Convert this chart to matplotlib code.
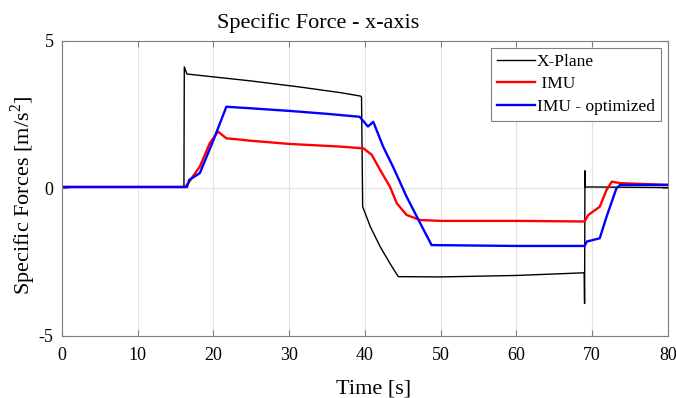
import numpy as np
import matplotlib
matplotlib.use("Agg")
from matplotlib import pyplot as plt

plt.rcParams['font.family'] = ['Liberation Serif', 'DejaVu Serif']
plt.rcParams['mathtext.fontset'] = 'custom'
plt.rcParams['mathtext.rm'] = 'Liberation Serif'
plt.rcParams['axes.unicode_minus'] = False

# X-Plane reference signal
xplane_t = [0, 16.1, 16.15, 16.5, 24.8, 31.4, 37.0, 39.45, 39.55, 39.7,
            40.7, 42.0, 43.3, 44.4, 50.0, 60.0, 68.95, 69.0, 69.05, 69.1, 70.0, 80.0]
xplane_v = [0.05, 0.05, 4.12, 3.88, 3.65, 3.44, 3.24, 3.13, 3.1, -0.62,
            -1.29, -1.97, -2.54, -2.99, -3.0, -2.95, -2.86, -3.9, 0.6, 0.05, 0.05, 0.03]

# IMU
imu_t = [0, 16.2, 16.5, 18.2, 19.5, 20.6, 21.7, 23.0, 24.8, 30.0, 36.7, 39.8,
         40.9, 42.0, 43.3, 44.2, 45.5, 47.3, 50.0, 60.0, 69.0, 69.5, 71.0,
         71.9, 72.6, 73.7, 80.0]
imu_v = [0.05, 0.05, 0.12, 0.74, 1.53, 1.93, 1.7, 1.67, 1.62, 1.51, 1.42, 1.36,
         1.14, 0.63, 0.06, -0.5, -0.9, -1.07, -1.1, -1.1, -1.12, -0.9, -0.62,
         -0.05, 0.23, 0.18, 0.12]

# IMU - optimized
opt_t = [0, 16.5, 16.8, 18.2, 20.0, 21.7, 24.8, 30.0, 35.0, 39.3, 40.4, 41.1,
         42.4, 43.7, 45.5, 47.3, 48.8, 60.0, 69.0, 69.3, 71.0, 71.9, 73.2,
         73.7, 80.0]
opt_v = [0.05, 0.05, 0.29, 0.52, 1.64, 2.77, 2.72, 2.63, 2.53, 2.43, 2.1, 2.26,
         1.42, 0.74, -0.28, -1.18, -1.92, -1.95, -1.95, -1.8, -1.69, -0.96, 0.0,
         0.12, 0.12]

fig = plt.figure(figsize=(6.76, 3.98), dpi=100)
ax = fig.add_axes([0.0917, 0.156, 0.8963, 0.741])

ax.plot(xplane_t, xplane_v, color='black', lw=1.0, label='X-Plane')
ax.plot(imu_t, imu_v, color='#ff0000', lw=1.7, label=' IMU')
ax.plot(opt_t, opt_v, color='#0000ff', lw=1.7, label='IMU - optimized')

ax.set_xlim(0, 80)
ax.set_ylim(-5, 5)
ax.set_xticks(np.arange(0, 81, 10))
ax.set_yticks([-5, 0, 5])
ax.grid(True, color='#e3e3e3', lw=0.8)
ax.set_axisbelow(True)
for s in ax.spines.values():
    s.set_color('#7f7f7f')
    s.set_linewidth(0.8)
ax.tick_params(direction='in', top=True, right=True, color='#7f7f7f',
               labelsize=13, length=4)
ax.tick_params(axis='y', pad=6)
ax.tick_params(axis='x', pad=8)

# title in the reference sits left of the axes centre
ax.set_title('Specific Force - x-axis', fontsize=16, x=0.422, pad=9)
ax.set_xlabel('Time [s]', fontsize=16)
ax.xaxis.set_label_coords(0.515, -0.148)
ax.set_ylabel(r'Specific Forces [m/s$^2$]', fontsize=16)
ax.yaxis.set_label_coords(-0.04, 0.478)

leg = ax.legend(loc='upper right', fontsize=12.5, fancybox=False, framealpha=1,
                edgecolor='#7f7f7f', borderaxespad=0.4, handlelength=2.2,
                handletextpad=0.1, labelspacing=0.35, borderpad=0.35)
leg.get_frame().set_linewidth(0.8)

fig.savefig('out.png', dpi=100)
